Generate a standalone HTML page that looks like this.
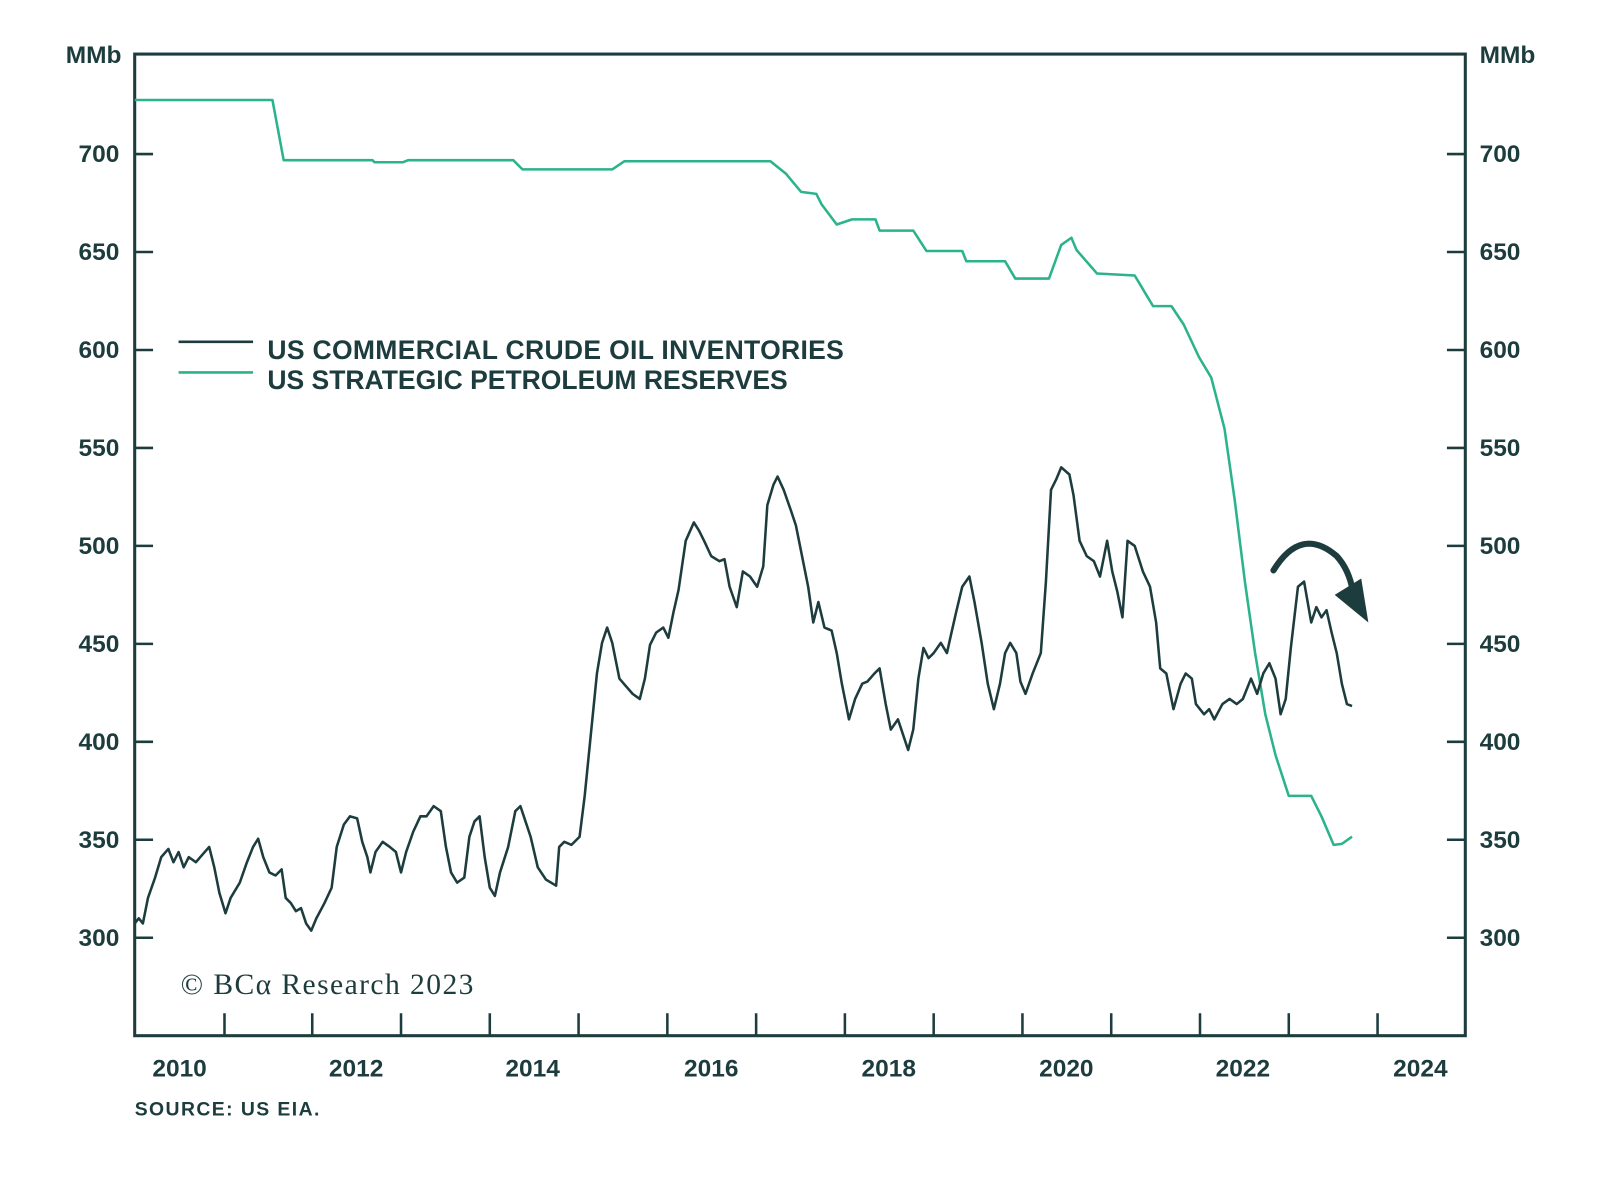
<!DOCTYPE html>
<html><head><meta charset="utf-8"><style>
html,body{margin:0;padding:0;background:#fff}
svg{display:block}
text{font-family:"Liberation Sans",sans-serif;fill:#1d3c3e;font-weight:bold}
</style></head><body>
<svg width="1600" height="1186" viewBox="0 0 1568 1162.3" preserveAspectRatio="none" xmlns="http://www.w3.org/2000/svg">
<rect width="1568" height="1163" fill="#fff"/>
<rect x="132" y="53" width="1304" height="962" fill="none" stroke="#1d3c3e" stroke-width="3"/>
<g stroke="#1d3c3e" stroke-width="2.5">
<line x1="132" y1="151" x2="150" y2="151"/><line x1="132" y1="247" x2="150" y2="247"/><line x1="132" y1="343" x2="150" y2="343"/><line x1="132" y1="439" x2="150" y2="439"/><line x1="132" y1="535" x2="150" y2="535"/><line x1="132" y1="631" x2="150" y2="631"/><line x1="132" y1="727" x2="150" y2="727"/><line x1="132" y1="823" x2="150" y2="823"/><line x1="132" y1="919" x2="150" y2="919"/>
<line x1="1418" y1="151" x2="1436" y2="151"/><line x1="1418" y1="247" x2="1436" y2="247"/><line x1="1418" y1="343" x2="1436" y2="343"/><line x1="1418" y1="439" x2="1436" y2="439"/><line x1="1418" y1="535" x2="1436" y2="535"/><line x1="1418" y1="631" x2="1436" y2="631"/><line x1="1418" y1="727" x2="1436" y2="727"/><line x1="1418" y1="823" x2="1436" y2="823"/><line x1="1418" y1="919" x2="1436" y2="919"/>
<line x1="220" y1="993" x2="220" y2="1015"/><line x1="306" y1="993" x2="306" y2="1015"/><line x1="393" y1="993" x2="393" y2="1015"/><line x1="480" y1="993" x2="480" y2="1015"/><line x1="567" y1="993" x2="567" y2="1015"/><line x1="654" y1="993" x2="654" y2="1015"/><line x1="741" y1="993" x2="741" y2="1015"/><line x1="828" y1="993" x2="828" y2="1015"/><line x1="915" y1="993" x2="915" y2="1015"/><line x1="1002" y1="993" x2="1002" y2="1015"/><line x1="1089" y1="993" x2="1089" y2="1015"/><line x1="1176" y1="993" x2="1176" y2="1015"/><line x1="1263" y1="993" x2="1263" y2="1015"/><line x1="1350" y1="993" x2="1350" y2="1015"/>
</g>
<g font-size="24" text-anchor="end">
<text x="119" y="62">MMb</text>
<text x="117" y="159">700</text><text x="117" y="255">650</text><text x="117" y="351">600</text><text x="117" y="447">550</text><text x="117" y="543">500</text><text x="117" y="639">450</text><text x="117" y="735">400</text><text x="117" y="831">350</text><text x="117" y="927">300</text>
</g>
<g font-size="24">
<text x="1450" y="62">MMb</text>
<text x="1450" y="159">700</text><text x="1450" y="255">650</text><text x="1450" y="351">600</text><text x="1450" y="447">550</text><text x="1450" y="543">500</text><text x="1450" y="639">450</text><text x="1450" y="735">400</text><text x="1450" y="831">350</text><text x="1450" y="927">300</text>
</g>
<g font-size="24" text-anchor="middle">
<text x="176" y="1055">2010</text><text x="349" y="1055">2012</text><text x="522" y="1055">2014</text><text x="697" y="1055">2016</text><text x="871" y="1055">2018</text><text x="1045" y="1055">2020</text><text x="1218" y="1055">2022</text><text x="1392" y="1055">2024</text>
</g>
<text x="132" y="1093" font-size="19" textLength="181">SOURCE: US EIA.</text>
<text x="177" y="974" font-size="29" style="font-family:'Liberation Serif',serif;font-weight:normal" textLength="287">© BCα Research 2023</text>
<line x1="175" y1="335" x2="248" y2="335" stroke="#1d3c3e" stroke-width="2.5"/>
<line x1="175" y1="365" x2="248" y2="365" stroke="#2bb38b" stroke-width="2.5"/>
<text x="262" y="352" font-size="26" textLength="565">US COMMERCIAL CRUDE OIL INVENTORIES</text>
<text x="262" y="381" font-size="26" textLength="510">US STRATEGIC PETROLEUM RESERVES</text>
<polyline fill="none" stroke="#2bb38b" stroke-width="2.5" stroke-linejoin="round" points="132,98 267,98 278,157 365,157 367,159 395,159 400,157 503,157 512,166 600,166 612,158 755,158 770,170 785,188 800,190 805,200 820,220 835,215 858,215 862,226 895,226 908,246 943,246 947,256 985,256 995,273 1028,273 1040,240 1050,233 1055,245 1075,268 1112,270 1130,300 1148,300 1160,318 1175,350 1187,370 1200,420 1210,490 1220,570 1230,640 1240,700 1250,740 1263,780 1285,780 1295,800 1307,828 1315,827 1325,820"/>
<polyline fill="none" stroke="#1d3c3e" stroke-width="2.5" stroke-linejoin="round" points="132,905 136,900 140,905 145,880 152,860 158,840 165,832 170,845 175,835 180,850 185,840 192,845 198,838 205,830 210,850 215,875 221,895 226,880 235,865 242,845 248,830 253,822 258,840 264,855 270,858 276,852 280,880 285,885 290,893 295,890 300,905 305,912 310,900 318,885 325,870 330,830 337,808 343,800 350,802 355,825 360,840 363,855 368,835 375,825 382,830 388,835 393,855 398,835 405,815 412,800 418,800 425,790 432,795 437,830 442,855 448,865 455,860 460,820 465,805 470,800 475,840 480,870 485,878 490,855 498,830 505,795 510,790 515,805 520,820 527,850 535,862 545,868 548,830 553,825 560,828 568,820 573,780 578,730 585,660 590,630 595,615 600,630 607,665 613,672 620,680 627,685 632,665 637,632 643,620 650,615 655,625 660,600 665,578 672,530 680,512 685,520 690,530 697,545 705,550 710,548 715,575 722,595 728,560 735,565 742,575 748,555 752,495 758,475 762,467 768,480 775,500 780,515 785,540 792,575 797,610 802,590 808,615 815,618 820,640 825,670 832,705 838,685 845,670 850,668 857,660 862,655 868,690 873,715 880,705 885,720 890,735 895,715 900,665 905,635 910,645 915,640 922,630 928,640 932,622 937,600 943,575 950,565 955,590 962,630 968,670 974,695 980,670 985,640 990,630 996,640 1000,668 1005,680 1012,660 1020,640 1025,570 1030,480 1035,470 1040,458 1048,465 1052,485 1058,530 1065,545 1072,550 1078,565 1085,530 1090,560 1095,580 1100,605 1105,530 1112,535 1120,560 1127,575 1133,610 1137,655 1143,660 1150,695 1157,670 1162,660 1168,665 1172,690 1180,700 1185,695 1190,705 1198,690 1205,685 1212,690 1218,685 1226,665 1232,680 1238,660 1244,650 1250,665 1255,700 1260,685 1265,635 1272,575 1278,570 1285,610 1290,595 1295,605 1300,598 1305,620 1310,640 1315,670 1320,690 1325,692"/>
<path d="M1248,559 Q1275,515 1310,545 Q1322,558 1326,580" fill="none" stroke="#1d3c3e" stroke-width="6" stroke-linecap="round"/>
<polygon points="1334,567 1341,610 1308,583" fill="#1d3c3e"/>
</svg>
</body></html>
